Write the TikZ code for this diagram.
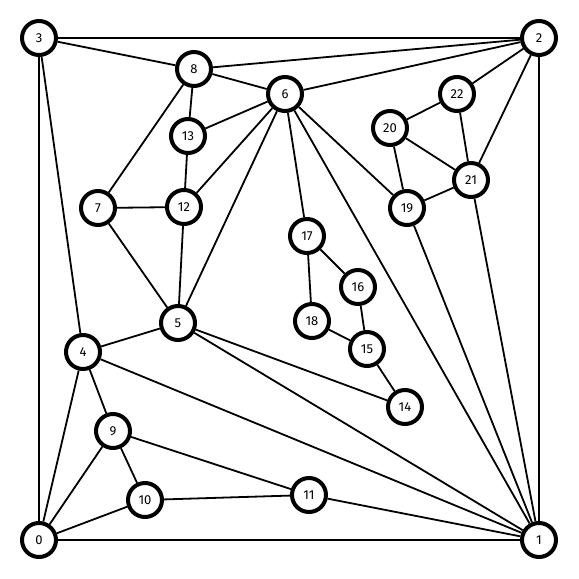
\documentclass[tikz,border=0pt]{standalone}
\usepackage{fontspec}
\setmainfont{Fira Sans}
\usetikzlibrary{positioning}

\begin{document}
\begin{tikzpicture}[x=1pt, y=-1pt, font=\fontsize{13}{15}\selectfont,
  vtx/.style={draw, circle, line width=4pt, fill=white, minimum size=34pt, inner sep=0pt},
  edge/.style={line width=1.8pt}]
\useasboundingbox (0,0) rectangle (579,579);
% vertices
\node[vtx] (v0) at (39,540) {0};
\node[vtx] (v1) at (539,540) {1};
\node[vtx] (v2) at (539,38) {2};
\node[vtx] (v3) at (39,38) {3};
\node[vtx] (v4) at (83,352) {4};
\node[vtx] (v5) at (178,323) {5};
\node[vtx] (v6) at (285,94) {6};
\node[vtx] (v7) at (98,208) {7};
\node[vtx] (v8) at (194,69) {8};
\node[vtx] (v9) at (113,431) {9};
\node[vtx] (v10) at (145,500) {10};
\node[vtx] (v11) at (309,495) {11};
\node[vtx] (v12) at (184,207) {12};
\node[vtx] (v13) at (188,136) {13};
\node[vtx] (v14) at (405,407) {14};
\node[vtx] (v15) at (367,349) {15};
\node[vtx] (v16) at (358,287) {16};
\node[vtx] (v17) at (307,236) {17};
\node[vtx] (v18) at (312,321) {18};
\node[vtx] (v19) at (407,208) {19};
\node[vtx] (v20) at (390,128) {20};
\node[vtx] (v21) at (471,180) {21};
\node[vtx] (v22) at (457,94) {22};
% edges
\foreach \a/\b in {0/1, 0/3, 1/2, 2/3, 3/8, 3/4, 8/2, 6/2, 2/22, 2/21,
  8/6, 8/13, 8/7, 6/13, 6/12, 6/5, 6/17, 6/19, 6/1, 13/12, 7/12, 7/5,
  12/5, 5/4, 5/14, 5/1, 4/0, 4/9, 4/1, 9/0, 9/10, 9/11, 10/0, 10/11,
  11/1, 17/18, 17/16, 16/15, 18/15, 15/14, 19/1, 19/20, 19/21, 20/22,
  20/21, 22/21, 21/1}
  \draw[edge] (v\a) -- (v\b);
\end{tikzpicture}
\end{document}
